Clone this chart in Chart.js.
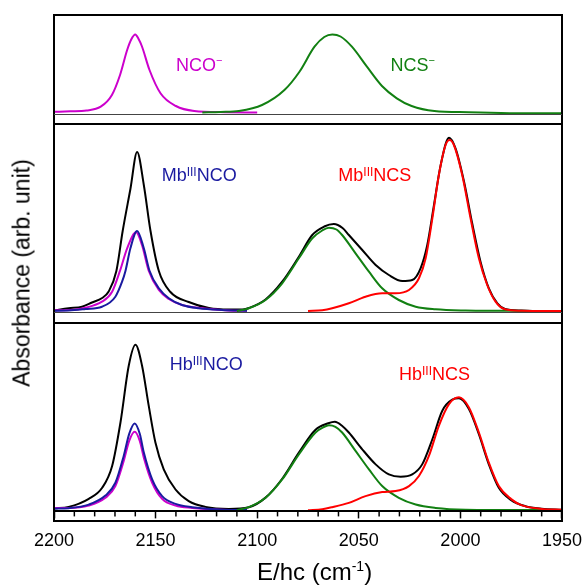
<!DOCTYPE html>
<html>
<head>
<meta charset="utf-8">
<script src="https://cdn.jsdelivr.net/npm/chart.js@4.4.1/dist/chart.umd.min.js"></script>
<style>
  html, body { margin: 0; padding: 0; background: #fff; overflow: hidden; }
  #fig { position: relative; width: 583px; height: 585px; overflow: hidden; font-family: "Liberation Sans", Arial, sans-serif; }
  #fig canvas { position: absolute; }
  .frame { position: absolute; left: 53px; top: 14px; width: 510px; height: 507.7px; box-sizing: border-box; border: 2px solid #000; }
  .hl { position: absolute; left: 54px; width: 508px; background: #000; }
  .hl.thin { height: 1px; background: #444; }
  .hl.thick { height: 2px; }
  .lbl { position: absolute; font-size: 18px; line-height: 18px; white-space: nowrap; }
  .lbl sup { font-size: 12px; line-height: 0; vertical-align: 5px; }
  .lbl sup.ion { font-size: 11px; vertical-align: 7px; }
  .ytitle { position: absolute; left: 22px; top: 273px; transform: translate(-50%, -50%) rotate(-90deg); font-size: 23px; line-height: 23px; white-space: nowrap; }
  .xtitle { position: absolute; left: 257px; top: 559.5px; font-size: 24px; line-height: 24px; white-space: nowrap; }
  .xtitle sup { font-size: 14px; line-height: 0; vertical-align: 9px; }
</style>
</head>
<body>
<div id="fig">
  <canvas id="panelA" width="508" height="99" style="left:54px;top:15px"></canvas>
  <canvas id="panelB" width="508" height="189" style="left:54px;top:124px"></canvas>
  <canvas id="panelC" width="570" height="240" style="left:23px;top:323px"></canvas>

  <div class="frame"></div>
  <div class="hl thin" style="top:113.5px"></div>
  <div class="hl thick" style="top:123.3px"></div>
  <div class="hl thin" style="top:312.2px"></div>
  <div class="hl thick" style="top:321.7px"></div>
  <div class="hl thick" style="top:509.5px"></div>

  <div class="lbl" style="left:176px;top:55.6px;color:#cc00cc">NCO<sup class="ion">−</sup></div>
  <div class="lbl" style="left:390.6px;top:55.6px;color:#128012">NCS<sup class="ion">−</sup></div>
  <div class="lbl" style="left:161.7px;top:165.9px;color:#1a1aa0">Mb<sup>III</sup>NCO</div>
  <div class="lbl" style="left:338.3px;top:165.6px;color:#ff0000">Mb<sup>III</sup>NCS</div>
  <div class="lbl" style="left:169.7px;top:354.6px;color:#1a1aa0">Hb<sup>III</sup>NCO</div>
  <div class="lbl" style="left:399px;top:364.6px;color:#ff0000">Hb<sup>III</sup>NCS</div>

  <div class="ytitle">Absorbance (arb. unit)</div>
  <div class="xtitle">E/hc (cm<sup>-1</sup>)</div>
</div>

<script>
// x axis ticks (cm-1)
const tickValues = [2200, 2150, 2100, 2050, 2000, 1950];
const tickLabels = ['2200', '2150', '2100', '2050', '2000', '1950'];

// --- top panel: free ions ---
const ncoIonE = [2200, 2192, 2184, 2177, 2171.5, 2167.5, 2164, 2162, 2160, 2158.5, 2156.7, 2153, 2147.5, 2140, 2131, 2116, 2100];
const ncoIonA = [0.7, 1.2, 2, 5.8, 17.5, 37.5, 62.5, 73, 78, 74, 66, 42.5, 19, 6.5, 1.5, 0.3, 0];
const ncsIonE = [2127, 2118, 2109, 2097.6, 2086.6, 2079.2, 2071.8, 2067, 2063, 2059, 2053.4, 2046, 2038.6, 2031.3, 2024, 2012.8, 1996, 1980, 1965, 1950];
const ncsIonA = [0, 0.5, 1.5, 7.5, 22.5, 40.8, 65.8, 75.5, 78, 76, 65.8, 45.8, 26.5, 14.2, 6.5, 1.5, 0.3, -0.5, -0.8, -0.8];

// --- middle panel: Mb ---
const mbTotalE = [2200, 2192.8, 2186.2, 2181.3, 2176.3, 2173.1, 2169.3, 2166.2, 2162.4, 2159.1, 2155.8, 2152.5, 2148.4, 2142.7, 2133.7, 2123.8, 2114, 2107, 2104, 2095.9, 2087.7, 2079.5, 2072.9, 2067, 2062.3, 2058, 2054.9, 2048.3, 2041.7, 2035.2, 2028.6, 2023.7, 2019.6, 2016.3, 2013, 2009.7, 2005.6, 2002.4, 1998.2, 1994.2, 1990.1, 1986, 1981.8, 1978, 1970, 1960, 1950];
const mbTotalA = [0.5, 2.7, 4.3, 8.5, 13, 19.5, 40, 80, 122, 159, 126, 80, 40, 19, 9, 3, 1.5, 1.5, 3, 11.5, 29.3, 54.3, 76, 84.5, 87, 83, 76, 61, 46, 36, 30, 31, 42.7, 66, 106, 146, 173.3, 162.7, 129.3, 87.7, 49.3, 22.7, 7.7, 2, 0.5, 0, 0];
const mbNcoE = [2200, 2192.8, 2184.5, 2176.4, 2169.8, 2166.5, 2164.8, 2162.4, 2159.1, 2155.8, 2153, 2148.4, 2143.5, 2137, 2128.8, 2117.3, 2105];
const mbNcoA = [0.3, 0.5, 2, 4.3, 14.3, 29.3, 40.3, 62.7, 80, 62.7, 40.3, 22.7, 12.7, 6, 2.7, 1, 0.3];
const mbIonE = [2200, 2192.8, 2184.5, 2176.4, 2171.4, 2167.5, 2164, 2159.6, 2156.7, 2153.4, 2148.4, 2143.5, 2137, 2127, 2114, 2105];
const mbIonA = [0.7, 1, 3.3, 9.3, 19.3, 40.3, 62.7, 78.7, 66, 40.3, 21, 12, 6, 2.7, 0.5, 0.2];
const mbGreenE = [2110, 2104.1, 2095.9, 2087.7, 2079.5, 2072.9, 2068, 2064.7, 2061, 2058.2, 2051.6, 2045, 2038.5, 2030.3, 2022, 2012.2, 1997.4, 1980, 1965, 1950];
const mbGreenA = [0, 2.7, 11, 27.7, 52.7, 72.7, 80.5, 83.3, 81.5, 76, 57.7, 39.3, 22.7, 11, 4.3, 1.7, 0.5, 0.2, 0, 0];
const mbRedE = [2075, 2068, 2063.1, 2054.9, 2046.7, 2038.5, 2031.9, 2025.3, 2020.4, 2017.1, 2013.8, 2010.6, 2007.3, 2005.3, 2003.2, 1999.1, 1995, 1990.9, 1986.8, 1982.7, 1978.1, 1970, 1960, 1950];
const mbRedA = [0, 0.8, 2.7, 7.7, 14.3, 17.7, 17.7, 21, 32.7, 52.7, 92.7, 136, 166, 171, 166, 136, 92.7, 52.7, 26, 9.3, 1.7, 0.3, 0, 0];

// --- bottom panel: Hb ---
const hbTotalE = [2200, 2192.8, 2182.9, 2176.3, 2171.4, 2167.3, 2163.2, 2159.9, 2156.7, 2153.4, 2150.1, 2146, 2140.2, 2133.7, 2125.5, 2114, 2104.1, 2095.9, 2087.7, 2079.5, 2071.3, 2065, 2061.8, 2058, 2054.9, 2048.3, 2041.7, 2035.2, 2029.4, 2023.7, 2018.8, 2013.8, 2008.9, 2004, 2000.7, 1995.8, 1990.9, 1986, 1981.1, 1975, 1968, 1960, 1950];
const hbTotalA = [2, 3.3, 11.3, 22.3, 44, 87.3, 144, 164.6, 144, 104, 67.3, 40.7, 20.6, 9, 3.3, 1.3, 3, 12.5, 31.3, 57.3, 80, 86.5, 88, 83.5, 77.3, 60.6, 45.6, 35.6, 33.3, 35.6, 45.6, 70.6, 99, 110, 111.3, 100.6, 75.6, 45.6, 22.3, 10, 4, 1.5, 0.5];
const hbNcoE = [2200, 2192.8, 2182.9, 2174.7, 2169.8, 2165.7, 2163, 2160.3, 2157.8, 2155.8, 2151.7, 2146.8, 2140.2, 2132, 2117.3, 2105];
const hbNcoA = [1.5, 2, 5.6, 14.6, 27.3, 54, 76, 86.3, 76, 57.3, 30.6, 14, 6.3, 3, 0.5, 0.2];
const hbIonE = [2202, 2192.8, 2182.9, 2174.7, 2169.8, 2165.7, 2163, 2160.3, 2157.8, 2155.8, 2151.7, 2146.8, 2140.2, 2132, 2117.3, 2105];
const hbIonA = [2.3, 2.3, 4.6, 12.3, 24, 49, 69, 78, 69, 52.3, 27.3, 11.3, 4.6, 2.3, 0.5, 0.2];
const hbGreenE = [2110, 2104.1, 2095.9, 2087.7, 2079.5, 2071.3, 2067.5, 2064.7, 2061.5, 2058.2, 2051.6, 2045, 2038.5, 2030.3, 2022, 2012.2, 1997.4, 1980, 1950];
const hbGreenA = [0, 3, 12.3, 30.6, 55.6, 77.3, 82.5, 84.6, 83, 77.3, 59, 40.6, 24, 12.3, 5.6, 2.3, 0.5, 0.2, 0];
const hbRedE = [2075, 2068, 2063.1, 2054.9, 2046.7, 2038.5, 2031.9, 2025.3, 2020.4, 2015.5, 2010.6, 2005.6, 2000.7, 1995.8, 1990.9, 1986, 1981.1, 1975, 1970, 1960, 1950];
const hbRedA = [0, 1, 3, 7.3, 14, 18, 19, 24, 34, 54, 84, 105.6, 112.3, 102.3, 77.3, 47.3, 24, 11, 5, 1.3, 0.5];

const MAGENTA = '#cc00cc', GREEN = '#128012', BLUE = '#1a1aa0', RED = '#ff0000', BLACK = '#000000';
const FONT = '"Liberation Sans", Arial, sans-serif';

const pts = (xs, ys) => xs.map((x, i) => ({ x, y: ys[i] }));
const line = (xs, ys, color) => ({
  data: pts(xs, ys),
  borderColor: color,
  borderWidth: 2,
  pointRadius: 0,
  fill: false,
  cubicInterpolationMode: 'monotone'
});

// minor ticks are shorter than the labelled ones
const minorTicks = {
  id: 'minorTicks',
  afterDraw(chart) {
    const sc = chart.scales.x;
    if (!sc.options.display) return;
    const c = chart.ctx;
    c.save();
    c.strokeStyle = '#000';
    c.lineWidth = 1.5;
    sc.ticks.forEach(t => {
      if (tickValues.includes(t.value)) return;
      const px = sc.getPixelForValue(t.value);
      c.beginPath();
      c.moveTo(px, sc.top);
      c.lineTo(px, sc.top + 5);
      c.stroke();
    });
    c.restore();
  }
};

const makePanel = (canvas, datasets, yMin, yMax, withAxis) => new Chart(canvas, {
  type: 'line',
  data: { datasets },
  options: {
    responsive: false,
    animation: false,
    devicePixelRatio: 1,
    layout: { padding: 0 },
    plugins: { legend: { display: false }, tooltip: { enabled: false } },
    scales: {
      x: {
        type: 'linear',
        min: 1950, max: 2200,
        reverse: true,
        display: withAxis,
        border: { display: false },
        grid: {
          drawOnChartArea: false,
          tickLength: 7,
          tickWidth: 1.5,
          tickColor: (ctx) => (ctx.tick && tickValues.includes(ctx.tick.value)) ? '#000' : 'rgba(0,0,0,0)'
        },
        ticks: {
          stepSize: 10,
          autoSkip: false,
          maxRotation: 0,
          padding: 12,
          color: '#000',
          font: { family: FONT, size: 18 },
          callback: (v) => {
            const i = tickValues.indexOf(v);
            return i >= 0 ? tickLabels[i] : '';
          }
        }
      },
      y: { type: 'linear', min: yMin, max: yMax, display: false }
    }
  },
  plugins: [minorTicks]
});

makePanel(document.getElementById('panelA'), [
  line(ncsIonE, ncsIonA, GREEN),
  line(ncoIonE, ncoIonA, MAGENTA)
], -1.5, 97.5, false);

makePanel(document.getElementById('panelB'), [
  line(mbRedE, mbRedA, RED),
  line(mbGreenE, mbGreenA, GREEN),
  line(mbNcoE, mbNcoA, BLUE),
  line(mbIonE, mbIonA, MAGENTA),
  line(mbTotalE, mbTotalA, BLACK)
], -2, 187, false);

// bottom panel carries the x axis; size its canvas so the plot area lines up with the frame
const hbDatasets = () => [
  line(hbRedE, hbRedA, RED),
  line(hbGreenE, hbGreenA, GREEN),
  line(hbNcoE, hbNcoA, BLUE),
  line(hbIonE, hbIonA, MAGENTA),
  line(hbTotalE, hbTotalA, BLACK)
];
const canvasC = document.getElementById('panelC');
let chartC = makePanel(canvasC, hbDatasets(), -1.2, 186.3, true);
const ca = chartC.chartArea;
const padL = ca.left, padR = chartC.width - ca.right, axisH = chartC.height - ca.bottom;
chartC.destroy();
canvasC.width = Math.round(508 + padL + padR);
canvasC.height = Math.round(188 + axisH);
canvasC.style.width = canvasC.width + 'px';
canvasC.style.height = canvasC.height + 'px';
canvasC.style.left = (54 - padL) + 'px';
chartC = makePanel(canvasC, hbDatasets(), -1.2, 186.3, true);
</script>
</body>
</html>
